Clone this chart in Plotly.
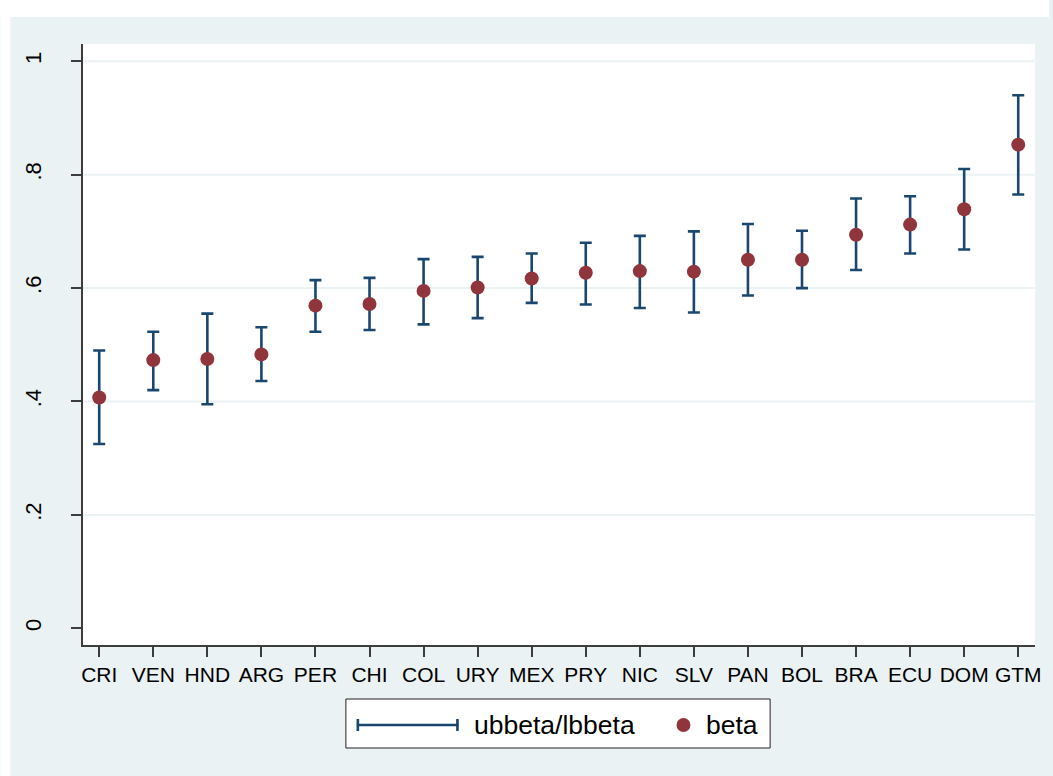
import plotly.graph_objects as go

# Country estimates with confidence bounds
countries = ["CRI", "VEN", "HND", "ARG", "PER", "CHI", "COL", "URY", "MEX",
             "PRY", "NIC", "SLV", "PAN", "BOL", "BRA", "ECU", "DOM", "GTM"]
beta = [0.407, 0.473, 0.475, 0.483, 0.569, 0.572, 0.595, 0.601, 0.617,
        0.627, 0.630, 0.629, 0.650, 0.650, 0.694, 0.712, 0.739, 0.853]
ubbeta = [0.490, 0.523, 0.555, 0.531, 0.614, 0.618, 0.651, 0.655, 0.661,
          0.680, 0.692, 0.700, 0.713, 0.701, 0.758, 0.762, 0.810, 0.940]
lbbeta = [0.325, 0.420, 0.395, 0.436, 0.523, 0.526, 0.536, 0.547, 0.574,
          0.571, 0.565, 0.557, 0.587, 0.600, 0.632, 0.661, 0.668, 0.765]

y_ticks = [0, 0.2, 0.4, 0.6, 0.8, 1.0]
y_labels = ["0", ".2", ".4", ".6", ".8", "1"]

NAVY = "#1A476F"
MAROON = "#90353B"
REGION = "#EAF2F3"
AXIS = "#3C3C3C"

W, H = 1053, 776
L, R, T, B = 83, 14, 44, 131
PW, PH = W - L - R, H - T - B


def px(x):
    return (x - L) / PW


def py(y):
    return (H - B - y) / PH


fig = go.Figure()
fig.add_trace(go.Scatter(
    x=countries, y=beta, mode="markers",
    marker=dict(color=MAROON, size=14, line=dict(width=0)),
    error_y=dict(type="data", symmetric=False,
                 array=[u - b for u, b in zip(ubbeta, beta)],
                 arrayminus=[b - l for b, l in zip(beta, lbbeta)],
                 color=NAVY, thickness=2.6, width=6),
    showlegend=False, cliponaxis=False,
))

shapes = []
# horizontal grid lines (none at zero)
for v in y_ticks[1:]:
    shapes.append(dict(type="line", xref="paper", yref="y", x0=0, x1=1,
                       y0=v, y1=v, line=dict(color=REGION, width=2),
                       layer="below"))
# white strips outside the graph region
shapes.append(dict(type="rect", xref="paper", yref="paper",
                   x0=px(0), x1=px(W), y0=py(0), y1=py(17),
                   fillcolor="white", line=dict(width=0), layer="above"))
shapes.append(dict(type="rect", xref="paper", yref="paper",
                   x0=px(0), x1=px(10), y0=py(0), y1=py(H),
                   fillcolor="white", line=dict(width=0), layer="above"))
# legend box
shapes.append(dict(type="rect", xref="paper", yref="paper",
                   x0=px(347), x1=px(773), y0=py(699), y1=py(748),
                   fillcolor="white", line=dict(color="#222222", width=1),
                   layer="above"))
# legend key: range cap line
ly = 725
shapes.append(dict(type="line", xref="paper", yref="paper",
                   x0=px(358), x1=px(460), y0=py(ly), y1=py(ly),
                   line=dict(color=NAVY, width=2.6), layer="above"))
for cx in (359, 459):
    shapes.append(dict(type="line", xref="paper", yref="paper",
                       x0=px(cx), x1=px(cx), y0=py(ly - 6), y1=py(ly + 6),
                       line=dict(color=NAVY, width=2.6), layer="above"))
# legend key: marker
shapes.append(dict(type="circle", xref="paper", yref="paper",
                   x0=px(679), x1=px(693), y0=py(ly - 7), y1=py(ly + 7),
                   fillcolor=MAROON, line=dict(width=0), layer="above"))

annotations = [
    dict(text="ubbeta/lbbeta", xref="paper", yref="paper", x=px(474),
         y=py(ly), xanchor="left", yanchor="middle", showarrow=False,
         font=dict(size=26.5, color="black", family="Liberation Sans, Arial")),
    dict(text="beta", xref="paper", yref="paper", x=px(707), y=py(ly),
         xanchor="left", yanchor="middle", showarrow=False,
         font=dict(size=26.5, color="black", family="Liberation Sans, Arial")),
]

fig.update_layout(
    width=W, height=H,
    margin=dict(l=L, r=R, t=T, b=B, pad=0),
    paper_bgcolor=REGION, plot_bgcolor="white",
    font=dict(family="Liberation Sans, Arial", size=20, color="black"),
    shapes=shapes, annotations=annotations,
    showlegend=False,
)
fig.update_xaxes(
    type="category", range=[-0.3, 17.31], showgrid=False, zeroline=False,
    showline=True, linecolor=AXIS, linewidth=1.6,
    ticks="outside", ticklen=10, tickwidth=1.6, tickcolor=AXIS,
    tickfont=dict(size=21), fixedrange=True,
)
fig.update_yaxes(
    range=[-0.0295, 1.0305], tickvals=y_ticks, ticktext=y_labels,
    tickangle=-90, showgrid=False, zeroline=False,
    showline=True, linecolor=AXIS, linewidth=1.6,
    ticks="outside", ticklen=10, tickwidth=1.6, tickcolor=AXIS,
    tickfont=dict(size=22), ticklabelstandoff=21, fixedrange=True,
)

fig.write_html("out.html", config={"displayModeBar": False})
